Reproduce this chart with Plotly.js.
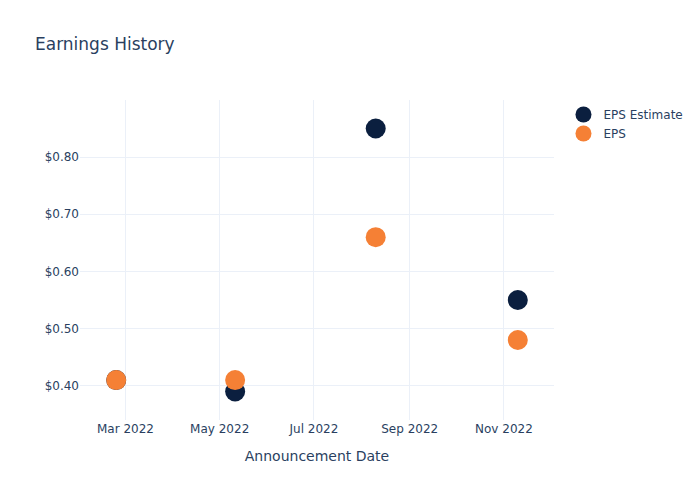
<!DOCTYPE html>
<html><head><meta charset="utf-8">
<script src="https://cdn.plot.ly/plotly-3.0.1.min.js"></script>
<style>body{margin:0}</style></head>
<body><div id="chart" style="width:700px;height:500px"></div>
<script>
const dates = ["2022-02-23", "2022-05-11", "2022-08-10", "2022-11-10"];
const epsEstimate = [0.41, 0.39, 0.85, 0.55];
const eps = [0.41, 0.41, 0.66, 0.48];

const traces = [
  {x: dates, y: epsEstimate, name: "EPS Estimate", mode: "markers", type: "scatter",
   marker: {color: "#0b1f3f", size: 20}},
  {x: dates, y: eps, name: "EPS", mode: "markers", type: "scatter",
   marker: {color: "#f58035", size: 20}}
];
const gridc = "#ebf0f8";
const layout = {
  width: 700, height: 500,
  paper_bgcolor: "white", plot_bgcolor: "white",
  font: {family: "DejaVu Sans, sans-serif", color: "#2a3f5f", size: 12},
  title: {text: "Earnings History", x: 0.05, font: {size: 17, color: "#2a3f5f"}},
  xaxis: {title: {text: "Announcement Date", font: {size: 14}, standoff: 16}, gridcolor: gridc, zeroline: false,
          tickformat: "%b %Y", showline: false, ticks: ""},
  yaxis: {tickprefix: "$", tickformat: ".2f", gridcolor: gridc, zeroline: false, dtick: 0.1},
  legend: {x: 1.02, y: 1, font: {size: 12}},
  margin: {l: 80, r: 80, t: 100, b: 80}
};
Plotly.newPlot("chart", traces, layout, {displayModeBar: false});
</script></body></html>
